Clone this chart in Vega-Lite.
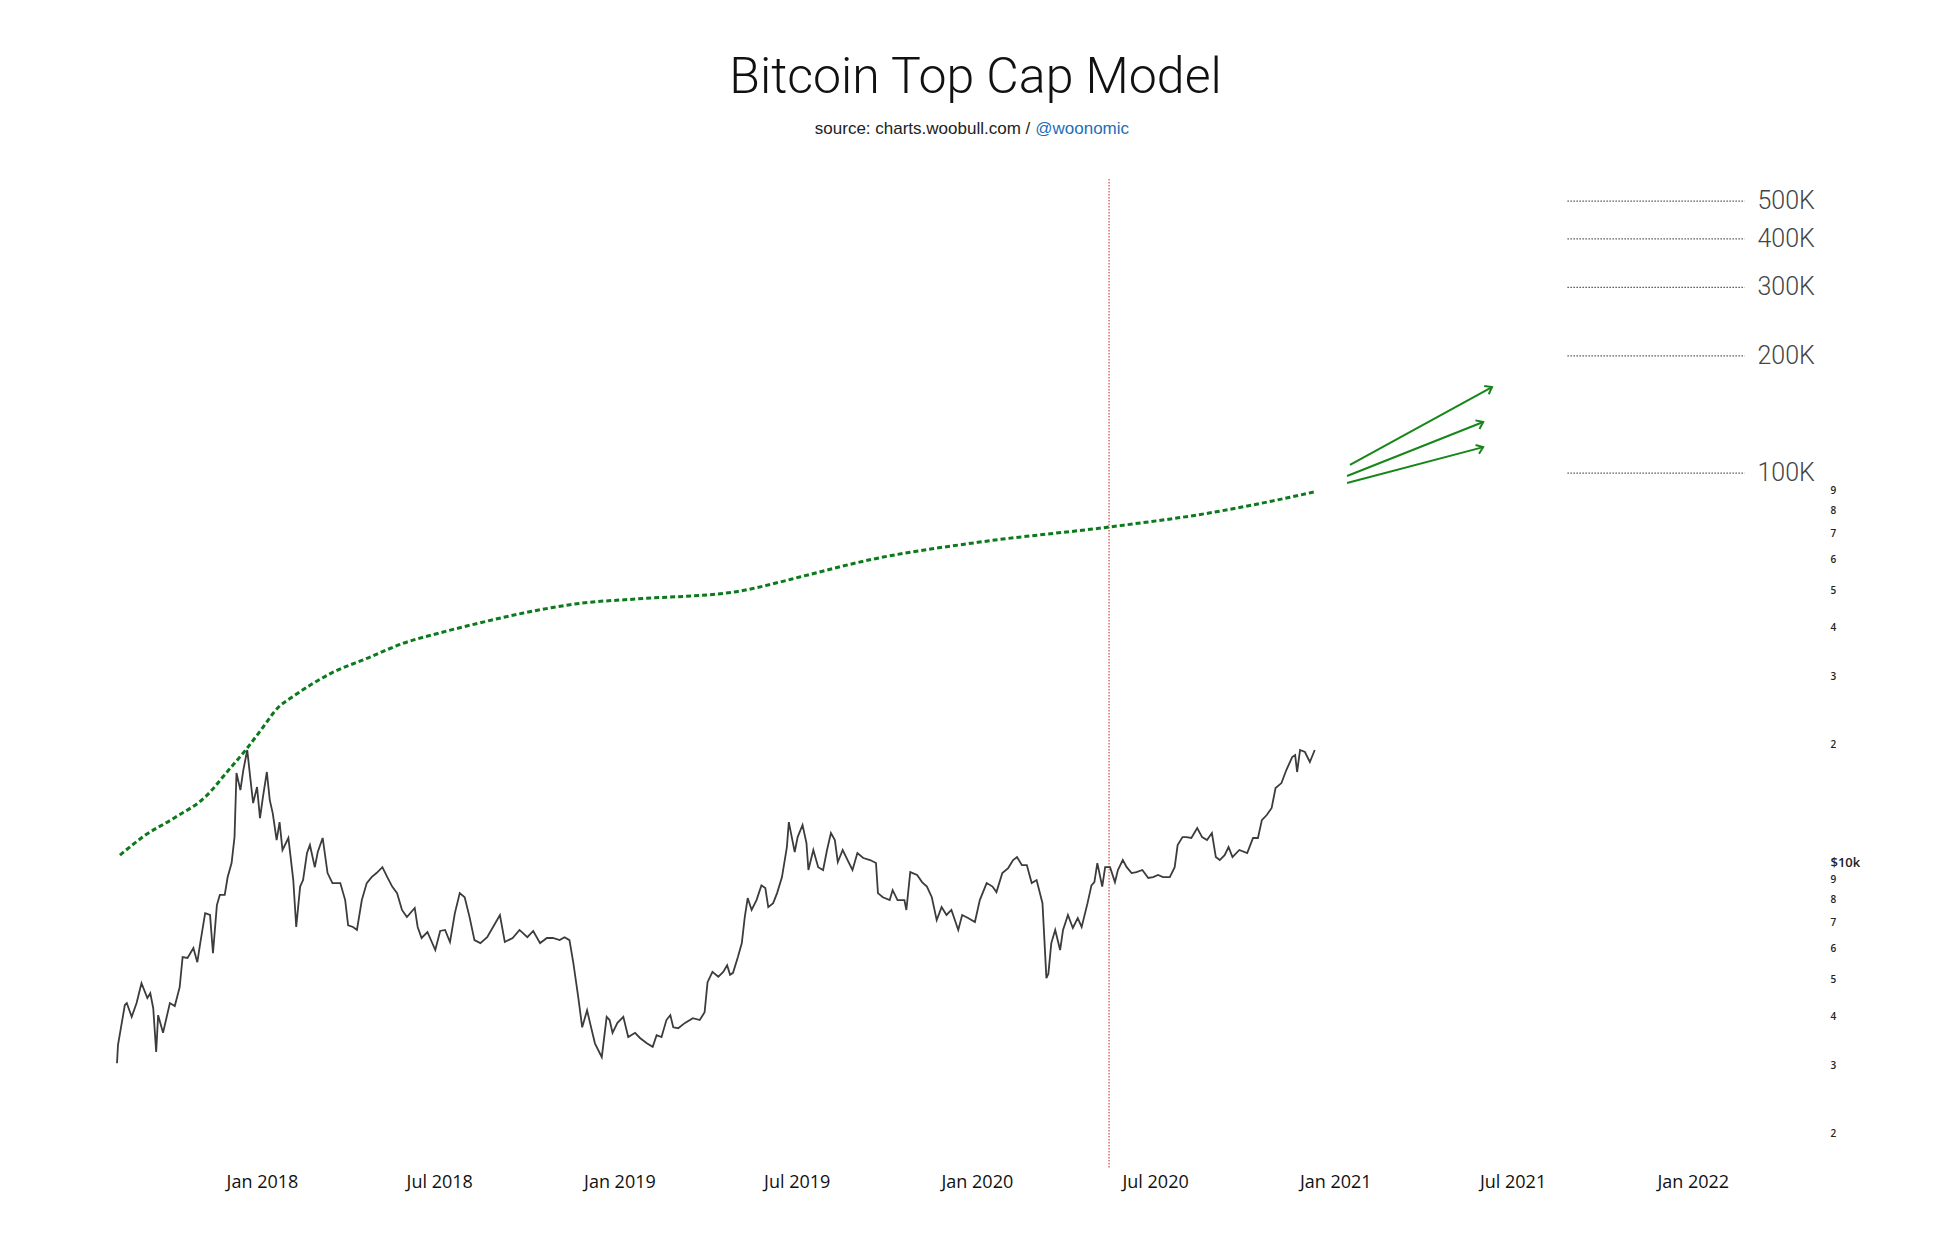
{
  "$schema": "https://vega.github.io/schema/vega-lite/v6.json",
  "width": 1707,
  "height": 989,
  "autosize": {"type": "none"},
  "padding": {"left": 117, "top": 179, "right": 110, "bottom": 88},
  "background": "white",
  "title": {
    "text": "Bitcoin Top Cap Model",
    "font": "Roboto",
    "fontWeight": 300,
    "fontSize": 50,
    "color": "#111111",
    "anchor": "middle",
    "dx": 5,
    "offset": 17
  },
  "datasets": {
    "price": [
      {"date": "2017-08-06", "price": 3040}, {"date": "2017-08-07", "price": 3385},
      {"date": "2017-08-14", "price": 4290}, {"date": "2017-08-16", "price": 4340},
      {"date": "2017-08-21", "price": 4000}, {"date": "2017-08-26", "price": 4340},
      {"date": "2017-08-31", "price": 4880}, {"date": "2017-09-06", "price": 4470},
      {"date": "2017-09-09", "price": 4600}, {"date": "2017-09-12", "price": 4210},
      {"date": "2017-09-15", "price": 3250}, {"date": "2017-09-17", "price": 4040},
      {"date": "2017-09-22", "price": 3640}, {"date": "2017-09-29", "price": 4340},
      {"date": "2017-10-04", "price": 4265}, {"date": "2017-10-09", "price": 4770},
      {"date": "2017-10-12", "price": 5700}, {"date": "2017-10-17", "price": 5670},
      {"date": "2017-10-23", "price": 6010}, {"date": "2017-10-27", "price": 5530},
      {"date": "2017-10-30", "price": 6190}, {"date": "2017-11-04", "price": 7390},
      {"date": "2017-11-09", "price": 7310}, {"date": "2017-11-12", "price": 5830},
      {"date": "2017-11-16", "price": 7750}, {"date": "2017-11-19", "price": 8230},
      {"date": "2017-11-24", "price": 8230}, {"date": "2017-11-27", "price": 9150},
      {"date": "2017-12-01", "price": 9940}, {"date": "2017-12-04", "price": 11590},
      {"date": "2017-12-06", "price": 16940}, {"date": "2017-12-10", "price": 15310},
      {"date": "2017-12-13", "price": 17240}, {"date": "2017-12-17", "price": 19410},
      {"date": "2017-12-20", "price": 16540}, {"date": "2017-12-23", "price": 14180},
      {"date": "2017-12-27", "price": 15590}, {"date": "2017-12-30", "price": 12970},
      {"date": "2018-01-02", "price": 14690}, {"date": "2018-01-06", "price": 17040},
      {"date": "2018-01-09", "price": 14430}, {"date": "2018-01-12", "price": 13360},
      {"date": "2018-01-16", "price": 11390}, {"date": "2018-01-19", "price": 12670},
      {"date": "2018-01-22", "price": 10740}, {"date": "2018-01-28", "price": 11530},
      {"date": "2018-02-02", "price": 8990}, {"date": "2018-02-05", "price": 6810},
      {"date": "2018-02-09", "price": 8650}, {"date": "2018-02-12", "price": 8990},
      {"date": "2018-02-16", "price": 10550}, {"date": "2018-02-19", "price": 11060},
      {"date": "2018-02-24", "price": 9700}, {"date": "2018-02-27", "price": 10610},
      {"date": "2018-03-04", "price": 11530}, {"date": "2018-03-09", "price": 9370},
      {"date": "2018-03-14", "price": 8830}, {"date": "2018-03-22", "price": 8830},
      {"date": "2018-03-27", "price": 7985}, {"date": "2018-03-30", "price": 6880},
      {"date": "2018-04-04", "price": 6810}, {"date": "2018-04-08", "price": 6690},
      {"date": "2018-04-13", "price": 7985}, {"date": "2018-04-18", "price": 8830},
      {"date": "2018-04-23", "price": 9150}, {"date": "2018-04-28", "price": 9370},
      {"date": "2018-05-04", "price": 9700}, {"date": "2018-05-09", "price": 9150},
      {"date": "2018-05-14", "price": 8650}, {"date": "2018-05-19", "price": 8320},
      {"date": "2018-05-24", "price": 7530}, {"date": "2018-05-29", "price": 7220},
      {"date": "2018-06-06", "price": 7620}, {"date": "2018-06-09", "price": 6810},
      {"date": "2018-06-13", "price": 6380}, {"date": "2018-06-19", "price": 6610},
      {"date": "2018-06-27", "price": 5940}, {"date": "2018-07-02", "price": 6650},
      {"date": "2018-07-07", "price": 6690}, {"date": "2018-07-12", "price": 6230},
      {"date": "2018-07-17", "price": 7390}, {"date": "2018-07-22", "price": 8320},
      {"date": "2018-07-27", "price": 8120}, {"date": "2018-08-01", "price": 7220},
      {"date": "2018-08-06", "price": 6300}, {"date": "2018-08-12", "price": 6190},
      {"date": "2018-08-19", "price": 6410}, {"date": "2018-08-25", "price": 6810},
      {"date": "2018-09-01", "price": 7310}, {"date": "2018-09-06", "price": 6230},
      {"date": "2018-09-14", "price": 6380}, {"date": "2018-09-21", "price": 6690},
      {"date": "2018-09-29", "price": 6410}, {"date": "2018-10-05", "price": 6650},
      {"date": "2018-10-12", "price": 6190}, {"date": "2018-10-19", "price": 6380},
      {"date": "2018-10-25", "price": 6380}, {"date": "2018-11-01", "price": 6300},
      {"date": "2018-11-06", "price": 6410}, {"date": "2018-11-11", "price": 6300},
      {"date": "2018-11-15", "price": 5500}, {"date": "2018-11-20", "price": 4490},
      {"date": "2018-11-24", "price": 3760}, {"date": "2018-11-29", "price": 4160},
      {"date": "2018-12-02", "price": 3860}, {"date": "2018-12-07", "price": 3420},
      {"date": "2018-12-14", "price": 3150}, {"date": "2018-12-19", "price": 4000},
      {"date": "2018-12-22", "price": 3925}, {"date": "2018-12-25", "price": 3640},
      {"date": "2018-12-30", "price": 3860}, {"date": "2019-01-05", "price": 4000},
      {"date": "2019-01-10", "price": 3550}, {"date": "2019-01-17", "price": 3640},
      {"date": "2019-01-22", "price": 3530}, {"date": "2019-01-29", "price": 3420},
      {"date": "2019-02-04", "price": 3350}, {"date": "2019-02-08", "price": 3590},
      {"date": "2019-02-13", "price": 3550}, {"date": "2019-02-18", "price": 3925},
      {"date": "2019-02-22", "price": 4040}, {"date": "2019-02-25", "price": 3760},
      {"date": "2019-03-02", "price": 3740}, {"date": "2019-03-09", "price": 3860},
      {"date": "2019-03-17", "price": 3970}, {"date": "2019-03-24", "price": 3925},
      {"date": "2019-03-29", "price": 4110}, {"date": "2019-04-01", "price": 4910},
      {"date": "2019-04-06", "price": 5220}, {"date": "2019-04-12", "price": 5070},
      {"date": "2019-04-17", "price": 5220}, {"date": "2019-04-21", "price": 5430},
      {"date": "2019-04-24", "price": 5130}, {"date": "2019-04-27", "price": 5190},
      {"date": "2019-05-02", "price": 5700}, {"date": "2019-05-06", "price": 6190},
      {"date": "2019-05-09", "price": 7220}, {"date": "2019-05-12", "price": 8080},
      {"date": "2019-05-16", "price": 7530}, {"date": "2019-05-21", "price": 7985},
      {"date": "2019-05-26", "price": 8710}, {"date": "2019-05-30", "price": 8570},
      {"date": "2019-06-02", "price": 7660}, {"date": "2019-06-07", "price": 7840},
      {"date": "2019-06-11", "price": 8320}, {"date": "2019-06-16", "price": 9150},
      {"date": "2019-06-21", "price": 10930}, {"date": "2019-06-23", "price": 12670},
      {"date": "2019-06-26", "price": 11590}, {"date": "2019-06-29", "price": 10610},
      {"date": "2019-07-02", "price": 11590}, {"date": "2019-07-07", "price": 12450},
      {"date": "2019-07-11", "price": 11190}, {"date": "2019-07-13", "price": 9540},
      {"date": "2019-07-18", "price": 10740}, {"date": "2019-07-23", "price": 9700},
      {"date": "2019-07-28", "price": 9540}, {"date": "2019-08-01", "price": 10740},
      {"date": "2019-08-05", "price": 11870}, {"date": "2019-08-09", "price": 11390},
      {"date": "2019-08-12", "price": 10000}, {"date": "2019-08-17", "price": 10740},
      {"date": "2019-08-22", "price": 10120}, {"date": "2019-08-27", "price": 9540},
      {"date": "2019-09-01", "price": 10550}, {"date": "2019-09-07", "price": 10240},
      {"date": "2019-09-14", "price": 10120}, {"date": "2019-09-20", "price": 9940},
      {"date": "2019-09-22", "price": 8320}, {"date": "2019-09-27", "price": 8120},
      {"date": "2019-10-04", "price": 7985}, {"date": "2019-10-07", "price": 8470},
      {"date": "2019-10-12", "price": 7985}, {"date": "2019-10-19", "price": 7985},
      {"date": "2019-10-21", "price": 7530}, {"date": "2019-10-25", "price": 9420},
      {"date": "2019-11-01", "price": 9260}, {"date": "2019-11-06", "price": 8880},
      {"date": "2019-11-11", "price": 8650}, {"date": "2019-11-16", "price": 8120},
      {"date": "2019-11-21", "price": 7090}, {"date": "2019-11-26", "price": 7660},
      {"date": "2019-12-01", "price": 7310}, {"date": "2019-12-06", "price": 7530},
      {"date": "2019-12-13", "price": 6690}, {"date": "2019-12-17", "price": 7310},
      {"date": "2019-12-23", "price": 7180}, {"date": "2019-12-30", "price": 7010},
      {"date": "2020-01-04", "price": 7985}, {"date": "2020-01-11", "price": 8830},
      {"date": "2020-01-17", "price": 8650}, {"date": "2020-01-21", "price": 8370},
      {"date": "2020-01-27", "price": 9370}, {"date": "2020-02-02", "price": 9650},
      {"date": "2020-02-07", "price": 10120}, {"date": "2020-02-11", "price": 10300},
      {"date": "2020-02-16", "price": 9820}, {"date": "2020-02-21", "price": 9820},
      {"date": "2020-02-26", "price": 8830}, {"date": "2020-03-02", "price": 8990},
      {"date": "2020-03-08", "price": 7840}, {"date": "2020-03-12", "price": 5030},
      {"date": "2020-03-14", "price": 5160}, {"date": "2020-03-17", "price": 6190},
      {"date": "2020-03-21", "price": 6690}, {"date": "2020-03-26", "price": 5940},
      {"date": "2020-03-29", "price": 6690}, {"date": "2020-04-03", "price": 7310},
      {"date": "2020-04-08", "price": 6770}, {"date": "2020-04-13", "price": 7180},
      {"date": "2020-04-17", "price": 6810}, {"date": "2020-04-23", "price": 7840},
      {"date": "2020-04-27", "price": 8710}, {"date": "2020-04-30", "price": 8880},
      {"date": "2020-05-03", "price": 9940}, {"date": "2020-05-08", "price": 8650},
      {"date": "2020-05-11", "price": 9700}, {"date": "2020-05-16", "price": 9700},
      {"date": "2020-05-21", "price": 8880}, {"date": "2020-05-24", "price": 9540},
      {"date": "2020-05-29", "price": 10120}, {"date": "2020-06-02", "price": 9700},
      {"date": "2020-06-07", "price": 9370}, {"date": "2020-06-12", "price": 9420},
      {"date": "2020-06-18", "price": 9540}, {"date": "2020-06-24", "price": 9100},
      {"date": "2020-06-29", "price": 9150}, {"date": "2020-07-04", "price": 9260},
      {"date": "2020-07-09", "price": 9150}, {"date": "2020-07-16", "price": 9150},
      {"date": "2020-07-21", "price": 9700}, {"date": "2020-07-24", "price": 11060},
      {"date": "2020-07-29", "price": 11590}, {"date": "2020-08-02", "price": 11590},
      {"date": "2020-08-07", "price": 11530}, {"date": "2020-08-13", "price": 12230},
      {"date": "2020-08-18", "price": 11590}, {"date": "2020-08-23", "price": 11390},
      {"date": "2020-08-28", "price": 11870}, {"date": "2020-09-01", "price": 10300},
      {"date": "2020-09-05", "price": 10120}, {"date": "2020-09-10", "price": 10420},
      {"date": "2020-09-14", "price": 10930}, {"date": "2020-09-18", "price": 10300},
      {"date": "2020-09-25", "price": 10740}, {"date": "2020-10-03", "price": 10550},
      {"date": "2020-10-09", "price": 11530}, {"date": "2020-10-14", "price": 11530},
      {"date": "2020-10-18", "price": 12820}, {"date": "2020-10-23", "price": 13210},
      {"date": "2020-10-28", "price": 13770}, {"date": "2020-11-01", "price": 15500},
      {"date": "2020-11-07", "price": 15960}, {"date": "2020-11-12", "price": 17240},
      {"date": "2020-11-18", "price": 18620}, {"date": "2020-11-21", "price": 18840},
      {"date": "2020-11-23", "price": 17040}, {"date": "2020-11-26", "price": 19410},
      {"date": "2020-12-01", "price": 19180}, {"date": "2020-12-06", "price": 18080},
      {"date": "2020-12-11", "price": 19410}
    ],
    "topcap": [
      {"date": "2017-08-09", "cap": 10420}, {"date": "2017-09-04", "cap": 11730},
      {"date": "2017-10-05", "cap": 13050}, {"date": "2017-11-04", "cap": 14690},
      {"date": "2017-11-28", "cap": 17240}, {"date": "2017-12-17", "cap": 19640},
      {"date": "2017-12-31", "cap": 21850}, {"date": "2018-01-18", "cap": 25030},
      {"date": "2018-02-01", "cap": 26570}, {"date": "2018-03-13", "cap": 30610},
      {"date": "2018-04-19", "cap": 33450}, {"date": "2018-05-26", "cap": 36560},
      {"date": "2018-07-01", "cap": 38790}, {"date": "2018-08-11", "cap": 41170},
      {"date": "2018-09-25", "cap": 43660}, {"date": "2018-11-24", "cap": 46320},
      {"date": "2019-01-18", "cap": 47450}, {"date": "2019-04-28", "cap": 49450},
      {"date": "2019-06-14", "cap": 52460}, {"date": "2019-07-04", "cap": 54030},
      {"date": "2019-09-17", "cap": 60080}, {"date": "2020-01-04", "cap": 66460},
      {"date": "2020-05-15", "cap": 72660}, {"date": "2020-08-25", "cap": 78920},
      {"date": "2020-11-12", "cap": 86250}, {"date": "2020-12-10", "cap": 89360}
    ],
    "levels": [
      {"level": 100000, "label": "100K"},
      {"level": 200000, "label": "200K"},
      {"level": 300000, "label": "300K"},
      {"level": 400000, "label": "400K"},
      {"level": 500000, "label": "500K"}
    ],
    "arrows": [
      {"arrow": "a", "start": "2021-01-16", "from": 104900, "end": "2021-06-10", "to": 166400},
      {"arrow": "b", "start": "2021-01-13", "from": 98240, "end": "2021-06-01", "to": 135300},
      {"arrow": "c", "start": "2021-01-13", "from": 94260, "end": "2021-06-01", "to": 116600}
    ],
    "events": [
      {"date": "2020-05-15"}
    ]
  },
  "encoding": {
    "x": {
      "type": "temporal",
      "scale": {"domain": ["2017-08-06", "2022-05-15"]},
      "axis": {
        "title": null,
        "format": "%b %Y",
        "tickCount": {"interval": "month", "step": 6},
        "grid": false,
        "ticks": false,
        "domain": false,
        "labelFont": "Open Sans",
        "labelFontSize": 18,
        "labelColor": "#111111",
        "labelPadding": 5,
        "labelFlush": false,
        "labelOverlap": false
      }
    },
    "y": {
      "type": "quantitative",
      "scale": {"type": "log", "domain": [1635, 570000], "nice": false, "zero": false},
      "axis": {
        "orient": "right",
        "title": null,
        "values": [2000, 3000, 4000, 5000, 6000, 7000, 8000, 9000, 10000, 20000, 30000, 40000, 50000, 60000, 70000, 80000, 90000],
        "labelExpr": "datum.value == 10000 ? '$10k' : (datum.value > 10000 ? '' + datum.value / 10000 : '' + datum.value / 1000)",
        "grid": false,
        "ticks": false,
        "domain": false,
        "labelFont": "Open Sans",
        "labelFontWeight": 600,
        "labelFontSize": {"condition": {"test": "datum.value == 10000", "value": 13}, "value": 10},
        "labelColor": "#222222",
        "labelPadding": 6,
        "labelFlush": false,
        "labelOverlap": false
      }
    }
  },
  "layer": [
    {
      "data": {"name": "events"},
      "mark": {"type": "rule", "color": "#d9534f", "strokeWidth": 1.3, "strokeDash": [1.5, 1.5]},
      "encoding": {"x": {"field": "date"}}
    },
    {
      "data": {"name": "levels"},
      "mark": {"type": "rule", "color": "#555555", "strokeWidth": 1.2, "strokeDash": [1.5, 1.5]},
      "encoding": {
        "x": {"datum": {"year": 2021, "month": 8, "date": 26}},
        "x2": {"datum": {"year": 2022, "month": 2, "date": 23}},
        "y": {"field": "level"}
      }
    },
    {
      "data": {"name": "levels"},
      "mark": {"type": "text", "align": "left", "baseline": "middle", "font": "Roboto", "fontWeight": 300, "fontSize": 25, "color": "#444444"},
      "encoding": {
        "x": {"datum": {"year": 2022, "month": 3, "date": 8}},
        "y": {"field": "level"},
        "text": {"field": "label"}
      }
    },
    {
      "data": {"name": "topcap"},
      "mark": {"type": "line", "color": "#0b7a1c", "strokeWidth": 3, "strokeDash": [5, 3], "interpolate": "monotone"},
      "encoding": {"x": {"field": "date"}, "y": {"field": "cap"}}
    },
    {
      "data": {"name": "price"},
      "mark": {"type": "line", "color": "#3c3c3c", "strokeWidth": 1.8},
      "encoding": {"x": {"field": "date"}, "y": {"field": "price"}}
    },
    {
      "data": {"name": "arrows"},
      "mark": {"type": "rule", "color": "#17861a", "strokeWidth": 2},
      "encoding": {
        "x": {"field": "start"},
        "x2": {"field": "end"},
        "y": {"field": "from"},
        "y2": {"field": "to"}
      }
    },
    {
      "data": {"name": "arrows"},
      "mark": {"type": "point", "shape": "M-1,-0.75L0,0L-1,0.75", "filled": false, "color": "#17861a", "strokeWidth": 2, "size": 160, "opacity": 1},
      "encoding": {
        "x": {"field": "end"},
        "y": {"field": "to"},
        "angle": {"field": "arrow", "type": "nominal", "scale": {"domain": ["a", "b", "c"], "range": [331.2, 338.5, 345.3]}, "legend": null}
      }
    },
    {
      "data": {"values": [{"credit": "source: charts.woobull.com /"}]},
      "mark": {"type": "text", "align": "right", "baseline": "alphabetic", "font": "Liberation Sans", "fontSize": 17, "color": "#222222"},
      "encoding": {
        "x": {"datum": {"year": 2020, "month": 2, "date": 24, "hours": 12}},
        "y": {"datum": 743600},
        "text": {"field": "credit"}
      }
    },
    {
      "data": {"values": [{"credit": "@woonomic"}]},
      "mark": {"type": "text", "align": "left", "baseline": "alphabetic", "dx": 5, "font": "Liberation Sans", "fontSize": 17, "color": "#1f6db5"},
      "encoding": {
        "x": {"datum": {"year": 2020, "month": 2, "date": 24, "hours": 12}},
        "y": {"datum": 743600},
        "text": {"field": "credit"}
      }
    }
  ],
  "config": {
    "view": {"stroke": null},
    "line": {"clip": false}
  }
}
